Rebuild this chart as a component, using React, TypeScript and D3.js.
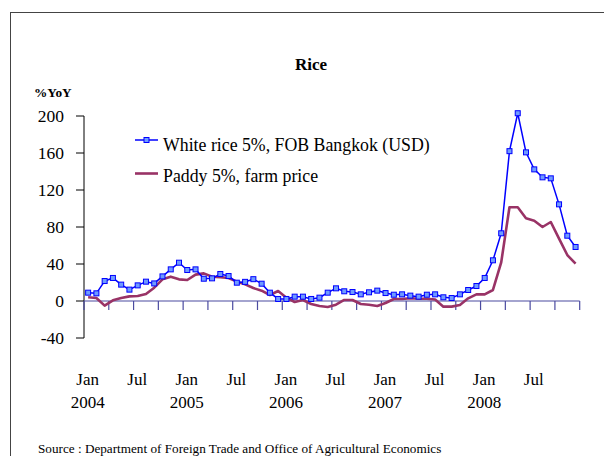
import React from "react";
import * as d3 from "d3";

// Monthly year-on-year change (%), Jan 2004 – Dec 2008
const months: string[] = d3.range(60).map((i) => `${2004 + Math.floor(i / 12)}-${String((i % 12) + 1).padStart(2, "0")}`);

const whiteRice: number[] = [
  9, 8.3, 21.6, 24.9, 17.7, 12.3, 16.9, 20.9, 19, 26.6, 34.2, 41.4,
  33.5, 34.2, 24.1, 24.5, 29.2, 27, 19.8, 20.7, 23.6, 18.7, 9, 2.2,
  2.2, 4.7, 4.7, 2.2, 3.6, 9, 13.7, 10.5, 9.7, 7.2, 9.4, 11.2,
  8.6, 6.8, 7.2, 5.8, 4.7, 6.8, 7.2, 4, 3.2, 7.2, 11.9, 16.2,
  24.9, 44, 73.2, 162, 203, 160.7, 142.3, 133.7, 132.6, 104.5, 70.6, 58.4,
];

const paddy: number[] = [
  4, 3.2, -5, 0.7, 3.2, 5, 5.4, 7.6, 14.4, 23.4, 26.3, 23.4,
  22.7, 28.5, 29.9, 26.3, 25.6, 24.9, 20.9, 18, 14, 11.2, 6.5, 10.8,
  3.6, -1.1, 1.1, -3.2, -5.4, -6.5, -4, 1.1, 1.1, -3.2, -4, -5.4,
  -2.2, 2.2, 2.2, 2.9, 2.5, 2.4, 1.6, -6.1, -6.1, -4.3, 2.9, 7.2,
  7.2, 11.9, 41.8, 101.3, 101.3, 89.4, 86.8, 80, 85.4, 67.4, 49.7, 40.3,
];

const yTicks: number[] = [-40, 0, 40, 80, 120, 160, 200];
const monthLabels: string[] = ["Jan", "Jul"];

const seriesNames = ["White rice 5%, FOB Bangkok (USD)", "Paddy 5%, farm price"];
const BLUE = "#0000ff";
const MAROON = "#993366";
const AXIS_BLUE = "#4b4ba0";
const FONT = "'Liberation Serif', 'Times New Roman', serif";

export default function App() {
  const x = d3.scaleBand<string>().domain(months).range([84, 579.7]).padding(0);
  const y = d3.scaleLinear().domain([-40, 200]).range([338, 116]);
  const cx = (i: number) => (x(months[i]) as number) + x.bandwidth() / 2;

  const line = d3
    .line<number>()
    .x((_, i) => cx(i))
    .y((d) => y(d));

  const boundaryTicks = d3.range(0, 61, 3).map((i) => x.range()[0] + i * x.step());

  return (
    <svg
      width={604}
      height={456}
      style={{ position: "absolute", left: 0, top: 0, background: "#fff" }}
      fontFamily={FONT}
    >
      <rect x={0} y={0} width={604} height={456} fill="#fff" />
      <rect x={10.5} y={12.5} width={620} height={480} fill="none" stroke="#444" strokeWidth={1} />

      <text x={311} y={70} textAnchor="middle" fontSize={17} fontWeight="bold">
        Rice
      </text>
      <text x={34} y={97} fontSize={13.3} fontWeight="bold">
        %YoY
      </text>

      {/* y axis */}
      <line x1={84} x2={84} y1={y(200)} y2={y(-40)} stroke="#000" strokeWidth={1} />
      {yTicks.map((t) => (
        <g key={t}>
          <line x1={76} x2={84} y1={y(t)} y2={y(t)} stroke="#000" strokeWidth={1} />
          <text x={64} y={y(t) + 6} textAnchor="end" fontSize={17.5}>
            {t}
          </text>
        </g>
      ))}

      {/* zero line with quarterly ticks */}
      <line x1={84} x2={x.range()[1]} y1={y(0)} y2={y(0)} stroke={AXIS_BLUE} strokeWidth={1.2} />
      {boundaryTicks.map((bx, i) => (
        <line key={i} x1={bx} x2={bx} y1={y(0)} y2={y(0) + 9} stroke={AXIS_BLUE} strokeWidth={1.2} />
      ))}

      {/* month / year labels */}
      {months.map((m, i) => {
        const mo = i % 12;
        if (mo !== 0 && mo !== 6) return null;
        return (
          <g key={m}>
            <text x={cx(i) - 0.5} y={385} textAnchor="middle" fontSize={17}>
              {monthLabels[mo === 0 ? 0 : 1]}
            </text>
            {mo === 0 && (
              <text x={cx(i) - 0.5} y={408} textAnchor="middle" fontSize={17}>
                {m.slice(0, 4)}
              </text>
            )}
          </g>
        );
      })}

      {/* series */}
      <path d={line(paddy) || ""} fill="none" stroke={MAROON} strokeWidth={2.6} strokeLinejoin="round" />
      <path d={line(whiteRice) || ""} fill="none" stroke={BLUE} strokeWidth={1.5} />
      {whiteRice.map((v, i) => (
        <rect key={i} x={cx(i) - 2.5} y={y(v) - 2.5} width={5} height={5} fill="#6f9bff" stroke={BLUE} strokeWidth={1} />
      ))}

      {/* legend */}
      <line x1={135} x2={158} y1={140} y2={140} stroke={BLUE} strokeWidth={1.5} />
      <rect x={144} y={137.5} width={5} height={5} fill="#6f9bff" stroke={BLUE} strokeWidth={1} />
      <text x={163} y={151} fontSize={17.8}>
        {seriesNames[0]}
      </text>
      <line x1={135} x2={158} y1={173.5} y2={173.5} stroke={MAROON} strokeWidth={2.6} />
      <text x={163} y={182} fontSize={17.8}>
        {seriesNames[1]}
      </text>

      <text x={38} y={453} fontSize={13.2}>
        Source : Department of Foreign Trade and Office of Agricultural Economics
      </text>
    </svg>
  );
}
